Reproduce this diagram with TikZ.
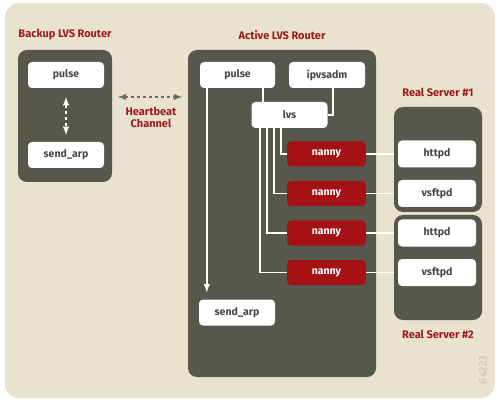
\documentclass[tikz,border=0pt]{standalone}
\usepackage{fontspec}
\setmainfont{Fira Sans}
\usetikzlibrary{calc}

\definecolor{paper}{RGB}{232,226,206}
\definecolor{slab}{RGB}{88,87,76}
\definecolor{rhred}{RGB}{165,18,22}
\definecolor{ink}{RGB}{70,70,66}
\definecolor{titlered}{RGB}{160,25,30}
\definecolor{pipe}{RGB}{110,108,94}
\definecolor{stamp}{RGB}{200,195,176}

\begin{document}
\begin{tikzpicture}[x=1pt, y=-1pt, >=latex]

    \tikzstyle{proc}=[fill=white, rounded corners=4pt, minimum width=76pt, minimum height=26pt, inner sep=0pt, text=ink, font=\bfseries\fontsize{10.5}{12}\selectfont];
    \tikzstyle{nannybox}=[proc, fill=rhred, text=white, minimum width=79pt, minimum height=25pt];
    \tikzstyle{slabbox}=[fill=slab, rounded corners=9pt, inner sep=0pt];
    \tikzstyle{title}=[text=titlered, font=\bfseries\fontsize{11}{12.5}\selectfont];
    \tikzstyle{wire}=[draw=white, line width=1.8pt];

    \useasboundingbox (0,0) rectangle (500,403);
    \fill[paper, rounded corners=14pt] (5,3) rectangle (495,398);

    % routers and servers
    \node[slabbox, minimum width=94pt, minimum height=132pt] (backup) at (65,116) {};
    \node[slabbox, minimum width=188pt, minimum height=327pt] (active) at (282,213.5) {};
    \node[slabbox, minimum width=88pt, minimum height=105pt] (rs1) at (438,159.5) {};
    \node[slabbox, minimum width=88pt, minimum height=105pt] (rs2) at (438,267.5) {};

    \node[title] (tb) at ($(backup.north)+(0,-15)$) {Backup LVS Router};
    \node[title] (ta) at ($(active.north)+(0,-15)$) {Active LVS Router};
    \node[title] (t1) at ($(rs1.north)+(0,-14)$) {Real Server \#1};
    \node[title] (t2) at ($(rs2.south)+(0,14)$) {Real Server \#2};

    % backup router
    \node[proc] (bp) at (66,75) {pulse};
    \node[proc] (bs) at (66,155) {send\_arp};
    \draw[wire, dashed, <->, shorten <=9pt, shorten >=7pt] (bp) -- (bs);

    % heartbeat
    \coordinate (hbl) at (118,97);
    \coordinate (hbr) at (182,97);
    \draw[pipe, line width=1.8pt, dashed, <->] (hbl) -- (hbr);
    \node[title, align=center, inner sep=0pt] (hb) at (151,117.5) {Heartbeat\\Channel};

    % active router
    \node[proc, minimum width=75pt] (ap) at (237.5,75) {pulse};
    \node[proc] (ipv) at (327,75) {ipvsadm};
    \node[proc] (lvs) at (289.5,115) {lvs};
    \node[proc] (as) at (237,312.5) {send\_arp};

    \draw[wire, ->, shorten >=7pt] ([xshift=7pt]ap.south west) -- ([xshift=7pt]ap.south west |- as.north);
    \draw[wire] ([xshift=-12pt]ap.south east) -- ([xshift=-12pt]ap.south east |- lvs.north);
    \draw[wire] ([xshift=6pt]ipv.south) |- (lvs.east);

    \foreach \i/\y/\dx/\srv/\rs in {1/154/30/httpd/rs1, 2/193.5/23/vsftpd/rs1, 3/233/16/httpd/rs2, 4/272.5/9/vsftpd/rs2} {
        \node[nannybox] (n\i) at (326.5,\y) {nanny};
        \node[proc, minimum width=78pt, minimum height=27pt] (s\i) at (437,\y) {\srv};
        \draw[wire] ([xshift=\dx pt]lvs.south west) |- (n\i.west);
        \draw[wire] (n\i.east) -- (n\i.east -| \rs.west);
    }

    \node[rotate=90, text=stamp, font=\fontsize{11}{12}\selectfont] (wm) at (483,370) {84223};
\end{tikzpicture}
\end{document}
